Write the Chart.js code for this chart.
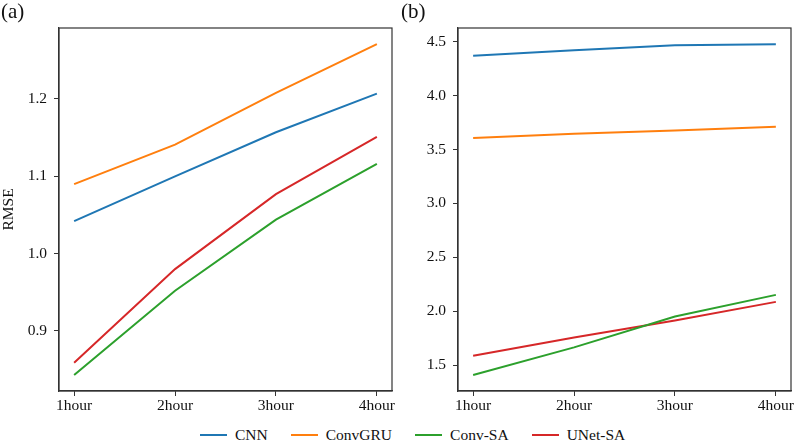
<!DOCTYPE html>
<html>
<head>
<meta charset="utf-8">
<script src="https://cdn.jsdelivr.net/npm/chart.js@4/dist/chart.umd.min.js"></script>
<style>
  body { margin: 0; background: #fff; }
  #wrap { position: relative; width: 796px; height: 444px; font-family: "Liberation Serif", serif; color: #111; }
  .panel { position: absolute; top: 0; }
  .tag { position: absolute; top: -1px; font-size: 21px; }
  #legend { position: absolute; left: 200px; top: 426px; display: flex; gap: 23px; font-size: 15.5px; }
  #legend span.item { display: flex; align-items: center; }
  #legend span.line { display: inline-block; width: 27px; height: 2px; margin-right: 8px; }
</style>
</head>
<body>
<div id="wrap">
  <div class="panel" style="left:0;width:400px;height:415px"><canvas id="chartA"></canvas></div>
  <div class="panel" style="left:400px;width:396px;height:415px"><canvas id="chartB"></canvas></div>
  <div class="tag" style="left:1px">(a)</div>
  <div class="tag" style="left:401px">(b)</div>
  <div id="legend"></div>
</div>
<script>
const hours = ['1hour', '2hour', '3hour', '4hour']
const models = ['CNN', 'ConvGRU', 'Conv-SA', 'UNet-SA']
const colors = ['#1f77b4', '#ff7f0e', '#2ca02c', '#d62728']

// panel (a)
const cnnA = [1.042, 1.100, 1.157, 1.207]
const convgruA = [1.090, 1.141, 1.208, 1.271]
const convsaA = [0.843, 0.952, 1.044, 1.116]
const unetsaA = [0.859, 0.980, 1.077, 1.151]
const ticksA = [0.9, 1.0, 1.1, 1.2]

// panel (b)
const cnnB = [4.370, 4.420, 4.466, 4.476]
const convgruB = [3.606, 3.645, 3.676, 3.710]
const convsaB = [1.407, 1.664, 1.950, 2.151]
const unetsaB = [1.586, 1.755, 1.913, 2.086]
const ticksB = [1.5, 2.0, 2.5, 3.0, 3.5, 4.0, 4.5]

const font = { family: '"Liberation Serif", serif', size: 15.5 }
const axisColor = '#333'

const frame = {
    id: 'frame',
    afterDraw(chart){
        const a = chart.chartArea
        const ctx = chart.ctx
        ctx.save()
        ctx.strokeStyle = axisColor
        ctx.lineWidth = 1.2
        ctx.strokeRect(a.left, a.top, a.right - a.left, a.bottom - a.top)
        ctx.restore()
    }
}

function makeChart(id, series, yTicks, yMin, yMax, yWidth, padRight, title){
    const ctx = document.getElementById(id).getContext('2d')
    return new Chart(ctx, {
        type: 'line',
        data: {
            datasets: series.map((vals, i) => ({
                label: models[i],
                data: vals.map((v, j) => ({ x: j, y: v })),
                borderColor: colors[i],
                backgroundColor: colors[i],
                borderWidth: 2,
                pointRadius: 0,
                tension: 0
            }))
        },
        options: {
            responsive: true,
            maintainAspectRatio: false,
            animation: false,
            layout: { padding: { top: 28, right: padRight, left: 0, bottom: 0 } },
            plugins: { legend: { display: false }, tooltip: { enabled: false } },
            scales: {
                x: {
                    type: 'linear',
                    min: -0.15,
                    max: 3.15,
                    afterBuildTicks: s => { s.ticks = hours.map((h, i) => ({ value: i })) },
                    afterFit: s => { s.height = 24 },
                    ticks: { callback: v => hours[v], color: '#111', font: font, padding: 1, maxRotation: 0 },
                    grid: { drawOnChartArea: false, drawTicks: true, tickLength: 5, color: axisColor },
                    border: { color: axisColor, width: 1.2 }
                },
                y: {
                    min: yMin,
                    max: yMax,
                    afterBuildTicks: s => { s.ticks = yTicks.map(v => ({ value: v })) },
                    afterFit: s => { s.width = yWidth },
                    ticks: { callback: v => v.toFixed(1), color: '#111', font: font, padding: 7 },
                    grid: { drawOnChartArea: false, drawTicks: true, tickLength: 5, color: axisColor },
                    border: { color: axisColor, width: 1.2 },
                    title: { display: !!title, text: title, color: '#111', font: font, padding: { top: 0, bottom: 0 } }
                }
            }
        },
        plugins: [frame]
    })
}

makeChart('chartA', [cnnA, convgruA, convsaA, unetsaA], ticksA, 0.8224, 1.2918, 59, 8, 'RMSE')
makeChart('chartB', [cnnB, convgruB, convsaB, unetsaB], ticksB, 1.259, 4.627, 58, 5, '')

const legend = document.getElementById('legend')
models.forEach((m, i) => {
    const item = document.createElement('span')
    item.className = 'item'
    item.innerHTML = '<span class="line" style="background:' + colors[i] + '"></span>' + m
    legend.appendChild(item)
})
</script>
</body>
</html>
